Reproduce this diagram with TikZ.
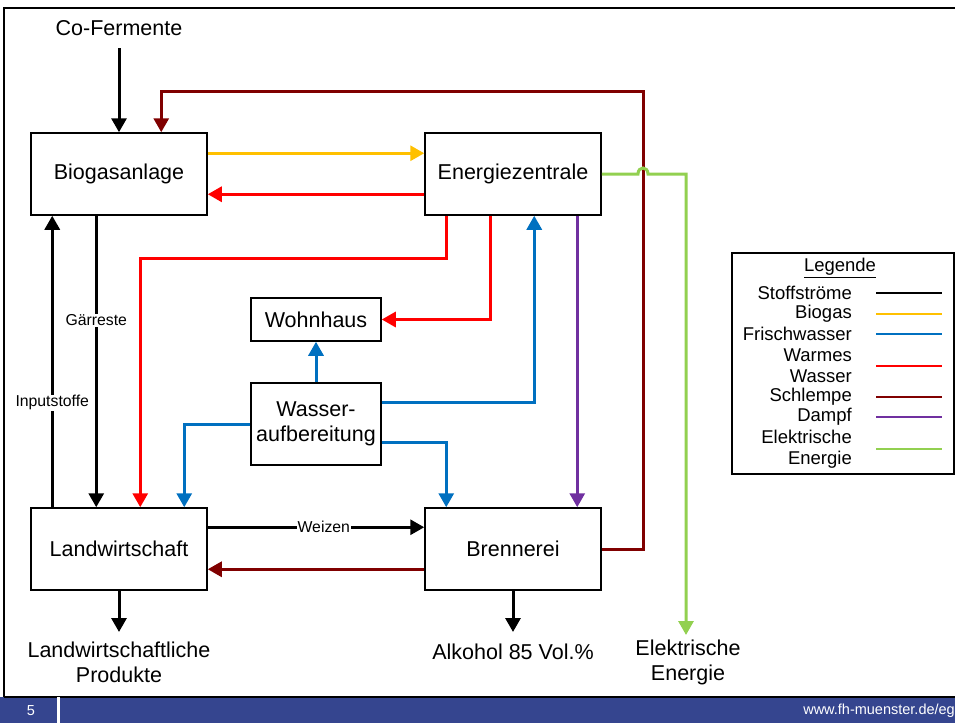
\documentclass[tikz,border=0pt]{standalone}
\usepackage{fontspec}
\setmainfont{Liberation Sans}
\usetikzlibrary{arrows.meta,calc}
\definecolor{cSchl}{RGB}{128,0,0}
\definecolor{cBio}{RGB}{255,192,0}
\definecolor{cBlue}{RGB}{0,112,192}
\definecolor{cRed}{RGB}{255,0,0}
\definecolor{cPurp}{RGB}{112,48,160}
\definecolor{cGreen}{RGB}{146,208,80}
\definecolor{cFoot}{RGB}{53,69,143}
\begin{document}
\begin{tikzpicture}[x=1pt,y=-1pt,
  box/.style={draw=black, line width=1.5pt, minimum width=176pt, minimum height=82pt, inner sep=0pt, font=\fontsize{21.5}{25}\selectfont, align=center},
  flow/.style={line width=3pt, -{Triangle[length=14pt,width=15pt]}},
  lbl/.style={font=\fontsize{21.5}{25}\selectfont, align=center, inner sep=0pt},
  small/.style={font=\fontsize{15.8}{18}\selectfont, fill=white, inner sep=1pt},
  leg/.style={font=\fontsize{18.5}{21}\selectfont, align=right, anchor=east, inner sep=0pt},
  legline/.style={line width=2pt},
  foot/.style={text=white, font=\fontsize{14.5}{16}\selectfont, inner sep=0pt}]
\useasboundingbox (0,0) rectangle (955,723);
% frame and footer
\fill[cFoot] (0,697) rectangle (955,723);
\draw[line width=1.5pt] (4,697) -- (955,697);
\draw[line width=2.5pt] (4,697) -- (4,8) -- (955,8);
\fill[white] (57,697) rectangle (60,723);
\node[foot] (pg) at (31,711) {5};
\node[foot, anchor=east] (url) at (955,711) {www.fh-muenster.de/eg};

% nodes
\node[box] (bio) at (119,174) {Biogasanlage};
\node[box] (ez) at (513,174) {Energiezentrale};
\node[box, minimum width=130pt, minimum height=43pt] (wohn) at (316,319.5) {Wohnhaus};
\node[box, minimum width=130pt] (wasser) at (316,424) {Wasser-\\aufbereitung};
\node[box] (land) at (119,549) {Landwirtschaft};
\node[box] (brenn) at (513,549) {Brennerei};

\node[lbl] (co) at (119,28) {Co-Fermente};
\node[lbl] (prod) at (119,662) {Landwirtschaftliche\\Produkte};
\node[lbl] (alk) at (513,652) {Alkohol 85 Vol.\%};
\node[lbl] (elek) at (688,662) {Elektrische\\Energie};
\coordinate (coout) at (119,48);
\coordinate (prodin) at (119,632);
\coordinate (alkin) at (513,632);
\coordinate (elekin) at (686,635);
\coordinate (sjog) at (643,91);
\coordinate (rjog) at (141,258);

% connectors
\draw[flow] (coout) -- (bio.north);
\draw[flow, cSchl] (brenn.east) -| (sjog) -| ([xshift=131pt]bio.north west);
\draw[flow, cBio] ([yshift=-21pt]bio.north east) -- ([yshift=-21pt]ez.north west);
\draw[flow, cRed] ([yshift=-62pt]ez.north west) -- ([yshift=-62pt]bio.north east);
\draw[flow, cGreen] (ez.east) -- (638,174) .. controls (638,166) and (648,166) .. (648,174) -- (686,174) -- (elekin);
\draw[flow, cRed] ([xshift=22pt]ez.south west) |- (rjog) -| ([xshift=110pt]land.north west);
\draw[flow, cRed] ([xshift=66pt]ez.south west) |- (wohn.east);
\draw[flow, cBlue] ([yshift=-20pt]wasser.north east) -| ([xshift=110pt]ez.south west);
\draw[flow, cPurp] ([xshift=153pt]ez.south west) -- ([xshift=153pt]brenn.north west);
\draw[flow, cBlue] (wasser.north) -- (wohn.south);
\draw[flow, cBlue] (wasser.west) -| ([xshift=154pt]land.north west);
\draw[flow, cBlue] ([yshift=-60pt]wasser.north east) -| ([xshift=22pt]brenn.north west);
\draw[flow] ([xshift=66pt]bio.south west) -- node[small, pos=0.358] {Gärreste} ([xshift=66pt]land.north west);
\draw[flow] ([xshift=22pt]land.north west) -- node[small, pos=0.358] {Inputstoffe} ([xshift=22pt]bio.south west);
\draw[flow] ([yshift=-20pt]land.north east) -- node[small, pos=0.536] {Weizen} ([yshift=-20pt]brenn.north west);
\draw[flow, cSchl] ([yshift=-62pt]brenn.north west) -- ([yshift=-62pt]land.north east);
\draw[flow] (land.south) -- (prodin);
\draw[flow] (brenn.south) -- (alkin);

% legend
\node[draw, line width=1.5pt, minimum width=222pt, minimum height=221pt, inner sep=0pt] (legbox) at (843,363.5) {};
\node[font=\fontsize{18.5}{21}\selectfont, inner sep=0pt] (legt) at (840,268) {\underline{Legende}};
\node[leg] (l1) at (852,293) {Stoffströme};
\node[leg] (l2) at (852,314) {Biogas};
\node[leg] (l3) at (852,334) {Frischwasser};
\node[leg] (l4) at (852,366) {Warmes\\Wasser};
\node[leg] (l5) at (852,397) {Schlempe};
\node[leg] (l6) at (852,417) {Dampf};
\node[leg] (l7) at (852,449) {Elektrische\\Energie};
\draw[legline, black] (876,293) -- (942,293);
\draw[legline, cBio] (876,314) -- (942,314);
\draw[legline, cBlue] (876,334) -- (942,334);
\draw[legline, cRed] (876,366) -- (942,366);
\draw[legline, cSchl] (876,397) -- (942,397);
\draw[legline, cPurp] (876,417) -- (942,417);
\draw[legline, cGreen] (876,449) -- (942,449);
\end{tikzpicture}
\end{document}
